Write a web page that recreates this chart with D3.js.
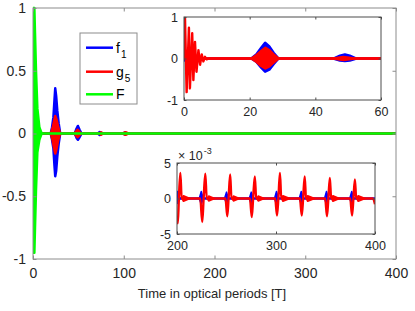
<!DOCTYPE html>
<html>
<head>
<meta charset="utf-8">
<script src="https://cdn.jsdelivr.net/npm/d3@7"></script>
<style>
  body { margin: 0; background: #fff; }
  svg { display: block; font-family: "Liberation Sans", Arial, sans-serif; }
</style>
</head>
<body>
<svg id="chart" width="415" height="311"></svg>
<script>
// ---- values ----
// envelopes of the fast oscillations: [t, upper, lower]
const mainF = [[0,1,-0.2],[0.4,1,-0.95],[1.5,1,-0.95],[2.2,0.8,-0.75],[3.3,0.5,-0.45],[4.8,0.2,-0.15],[7,0.05,-0.05],[9,0.01,-0.01],[10,0,0],[400,0,0]];
const mainF1 = [[0,0,0],[19.5,0,0],[21,0.05,-0.05],[22.5,0.13,-0.12],[23.7,0.27,-0.26],[24.5,0.36,-0.34],[25.5,0.3,-0.3],[26.8,0.18,-0.18],[28.3,0.08,-0.08],[30,0,0],
  [46,0,0],[48,0.04,-0.035],[49.5,0.06,-0.05],[51.3,0.03,-0.03],[53.5,0,0],[71.5,0,0],[73.5,0.012,-0.012],[75.5,0,0],[99,0,0],[101,0.008,-0.008],[103,0,0],[400,0,0]];
const mainG5 = [[0,0,0],[19.5,0,0],[21.5,0.04,-0.05],[23,0.09,-0.11],[24.5,0.14,-0.16],[26,0.11,-0.12],[27.8,0.05,-0.05],[30,0,0],[45.5,0,0],[49,0.03,-0.03],[53,0,0],
  [72.5,0,0],[75,0.01,-0.01],[77.5,0,0],[99,0,0],[102,0.01,-0.01],[105,0,0],[400,0,0]];

// upper inset, 0..60
const in1G5Spikes = [[0,0],[0.3,0.98],[0.8,-0.81],[1.5,0.74],[1.8,-0.72],[2.5,0.61],[2.85,-0.52],[3.35,0.4],[3.8,-0.32],[4.4,0.2],[4.9,-0.15],[5.4,0.1],[5.9,-0.07],[6.4,0.04],[6.9,-0.02],[7.5,0],[60,0]];
const in1G5 = [[0,0,0],[20.5,0,0],[22,0.08,-0.08],[23.5,0.18,-0.18],[24.8,0.26,-0.24],[26,0.2,-0.19],[27.3,0.1,-0.1],[28.8,0,0],[45.5,0,0],[48.5,0.04,-0.04],[52,0,0],[60,0,0]];
const in1F1 = [[0,0.15,-0.05],[0.6,0,0],[20.5,0,0],[22,0.1,-0.08],[23.5,0.26,-0.22],[24.7,0.38,-0.32],[26,0.29,-0.27],[27.3,0.14,-0.14],[28.8,0,0],
  [45.5,0,0],[47.5,0.07,-0.05],[49,0.1,-0.06],[50.5,0.07,-0.05],[52.5,0,0],[60,0,0]];

// lower inset, 200..400, values in units of 1e-3
const in2G5 = [[200,-2.5],[200.8,-3.5],[201.9,0],[203.4,3.6],[204.7,0],
  [223.5,0],[225.5,-3.3],[226.9,0],[228.6,3.5],[230,0],
  [249,0],[250.8,-2.5],[252.1,0],[253.7,3.4],[255,0],
  [273.7,0],[275.5,-2.6],[276.9,0],[278.6,3.1],[280,0],
  [299.2,0],[301,-2.4],[302.4,0],[304,3.6],[305.3,0],
  [324.2,0],[326,-2.4],[327.4,0],[329,3.1],[330.3,0],
  [349.7,0],[351.5,-2.5],[352.9,0],[354.4,2.9],[355.7,0],
  [375,0],[376.8,-2.4],[378.2,0],[379.7,2.7],[381,0],
  [398,0],[400,-0.8]];
// small ripple after each red pulse: [start, end, amplitude]
const in2G5Ripple = [[205,213,0.4],[230.5,238,0.35],[255.5,263,0.35],[280.5,288,0.35],[305.5,314,0.4],[330.5,339,0.4],[356,364,0.4],[381.5,390,0.4]];
// blue bursts: [start, peak, end, upper, lower]
const in2F1Bursts = [[198,200.5,203,1.0,-0.7],[222.5,224.5,226.5,1.0,-0.8],[248,250,252,0.9,-0.7],[273,275,277,0.9,-0.8],
  [298.5,300.5,302.5,1.0,-0.8],[323.5,325.5,327.5,1.0,-0.8],[349,351,353,1.0,-0.8],[374.5,376.5,378.5,1.0,-0.8]];

const mainXTicks = [0,100,200,300,400];
const mainYTicks = [-1,-0.5,0,0.5,1];
const in1XTicks = [0,20,40,60];
const in1YTicks = [-1,0,1];
const in2XTicks = [200,300,400];
const in2YTicks = [-5,0,5];

const BLUE = "#0000ff", RED = "#ff0000", GREEN = "#00ff00";

const svg = d3.select("#chart");

function panel(id, x0, x1, y0, y1, xd, yd, xt, yt, o) {
  const x = d3.scaleLinear().domain(xd).range([x0, x1]);
  const y = d3.scaleLinear().domain(yd).range([y1, y0]);
  const g = svg.append("g");
  g.append("rect").attr("x", x0).attr("y", y0).attr("width", x1 - x0).attr("height", y1 - y0)
    .attr("fill", "#fff");
  svg.append("clipPath").attr("id", id).append("rect")
    .attr("x", x0).attr("y", y0 - 2).attr("width", x1 - x0).attr("height", y1 - y0 + 4);
  const plot = g.append("g").attr("clip-path", `url(#${id})`);

  const ax = [
    [d3.axisBottom(x).tickValues(xt), y1, "x", true],
    [d3.axisTop(x).tickValues(xt), y0, "x", false],
    [d3.axisLeft(y).tickValues(yt), x0, "y", true],
    [d3.axisRight(y).tickValues(yt), x1, "y", false]
  ];
  const axG = g.append("g");
  ax.forEach(([a, pos, dir, lab]) => {
    a.tickSizeInner(-o.tick).tickSizeOuter(0).tickPadding(dir === "x" ? o.padX : o.padY);
    const s = axG.append("g")
      .attr("transform", dir === "x" ? `translate(0,${pos})` : `translate(${pos},0)`)
      .call(a);
    s.select(".domain").remove();
    s.selectAll("line").attr("stroke", o.axis);
    s.selectAll("text").attr("fill", "#262626").style("font-size", o.font + "px")
      .style("font-family", '"Liberation Sans", Arial, sans-serif')
      .text(d => lab ? String(d) : "");
  });
  g.append("rect").attr("x", x0).attr("y", y0).attr("width", x1 - x0).attr("height", y1 - y0)
    .attr("fill", "none").attr("stroke", o.axis).attr("stroke-width", 1);
  return { x, y, plot, g };
}

function envelope(p, data, color, lw) {
  const area = d3.area().x(d => p.x(d[0])).y0(d => p.y(d[2])).y1(d => p.y(d[1]));
  p.plot.append("path").datum(data).attr("d", area)
    .attr("fill", color).attr("stroke", color).attr("stroke-width", lw).attr("stroke-linejoin", "round");
}
function trace(p, data, color, lw, curve) {
  const line = d3.line().x(d => p.x(d[0])).y(d => p.y(d[1])).curve(curve || d3.curveLinear);
  p.plot.append("path").datum(data).attr("d", line)
    .attr("fill", "none").attr("stroke", color).attr("stroke-width", lw).attr("stroke-linejoin", "round");
}

// ---- main axes ----
const m = panel("cm", 33, 396, 8, 259, [0, 400], [-1, 1], mainXTicks, mainYTicks,
  { tick: 3.5, padX: 9, padY: 7, font: 14, axis: "#8c8c8c" });
envelope(m, mainF1, BLUE, 2.5);
envelope(m, mainG5, RED, 2.5);
envelope(m, mainF, GREEN, 2.5);

svg.append("text").attr("x", 212).attr("y", 297.5).attr("text-anchor", "middle")
  .attr("fill", "#262626").style("font-size", "13px").text("Time in optical periods [T]");

// legend
const leg = svg.append("g");
leg.append("rect").attr("x", 80).attr("y", 33).attr("width", 57).attr("height", 71)
  .attr("fill", "#fff").attr("stroke", "#8c8c8c");
const legItems = [["f", "1", BLUE, 47.7], ["g", "5", RED, 71.7], ["F", "", GREEN, 94.3]];
legItems.forEach(([t, sub, c, yy]) => {
  leg.append("line").attr("x1", 86).attr("x2", 113).attr("y1", yy).attr("y2", yy)
    .attr("stroke", c).attr("stroke-width", 2.5);
  const tx = leg.append("text").attr("x", 116).attr("y", yy + 5).attr("fill", "#000")
    .style("font-size", "14px").text(t);
  if (sub) tx.append("tspan").attr("dy", 5).attr("dx", 1).style("font-size", "10px").text(sub);
});

// ---- upper inset ----
const a = panel("c1", 184, 381, 17, 100, [0, 60], [-1, 1], in1XTicks, in1YTicks,
  { tick: 2.5, padX: 7, padY: 6, font: 12.5, axis: "#4d4d4d" });
envelope(a, in1F1, BLUE, 2.4);
envelope(a, in1G5, RED, 2.4);
trace(a, in1G5Spikes, RED, 2.4);

// ---- lower inset ----
const b = panel("c2", 177, 375, 163, 234, [200, 400], [-5, 5], in2XTicks, in2YTicks,
  { tick: 2.5, padX: 7.5, padY: 6, font: 12.5, axis: "#4d4d4d" });
trace(b, [[200, 0], [400, 0]], BLUE, 2.4);
in2F1Bursts.forEach(([s, pk, e, hi, lo]) => {
  envelope(b, [[s, 0, 0], [pk, hi, lo], [e, 0, 0]], BLUE, 1.5);
});
in2G5Ripple.forEach(([s, e, amp]) => {
  envelope(b, [[s, 0, 0], [s + 1.5, amp, -amp], [e, 0, 0]], RED, 1.5);
});
trace(b, in2G5, RED, 2.4, d3.curveMonotoneX);

const ex = svg.append("text").attr("x", 178).attr("y", 160).attr("fill", "#262626")
  .style("font-size", "12.5px").text("\u00d7 10");
ex.append("tspan").attr("dy", -6.5).attr("dx", 1).style("font-size", "9px").text("-3");
</script>
</body>
</html>
